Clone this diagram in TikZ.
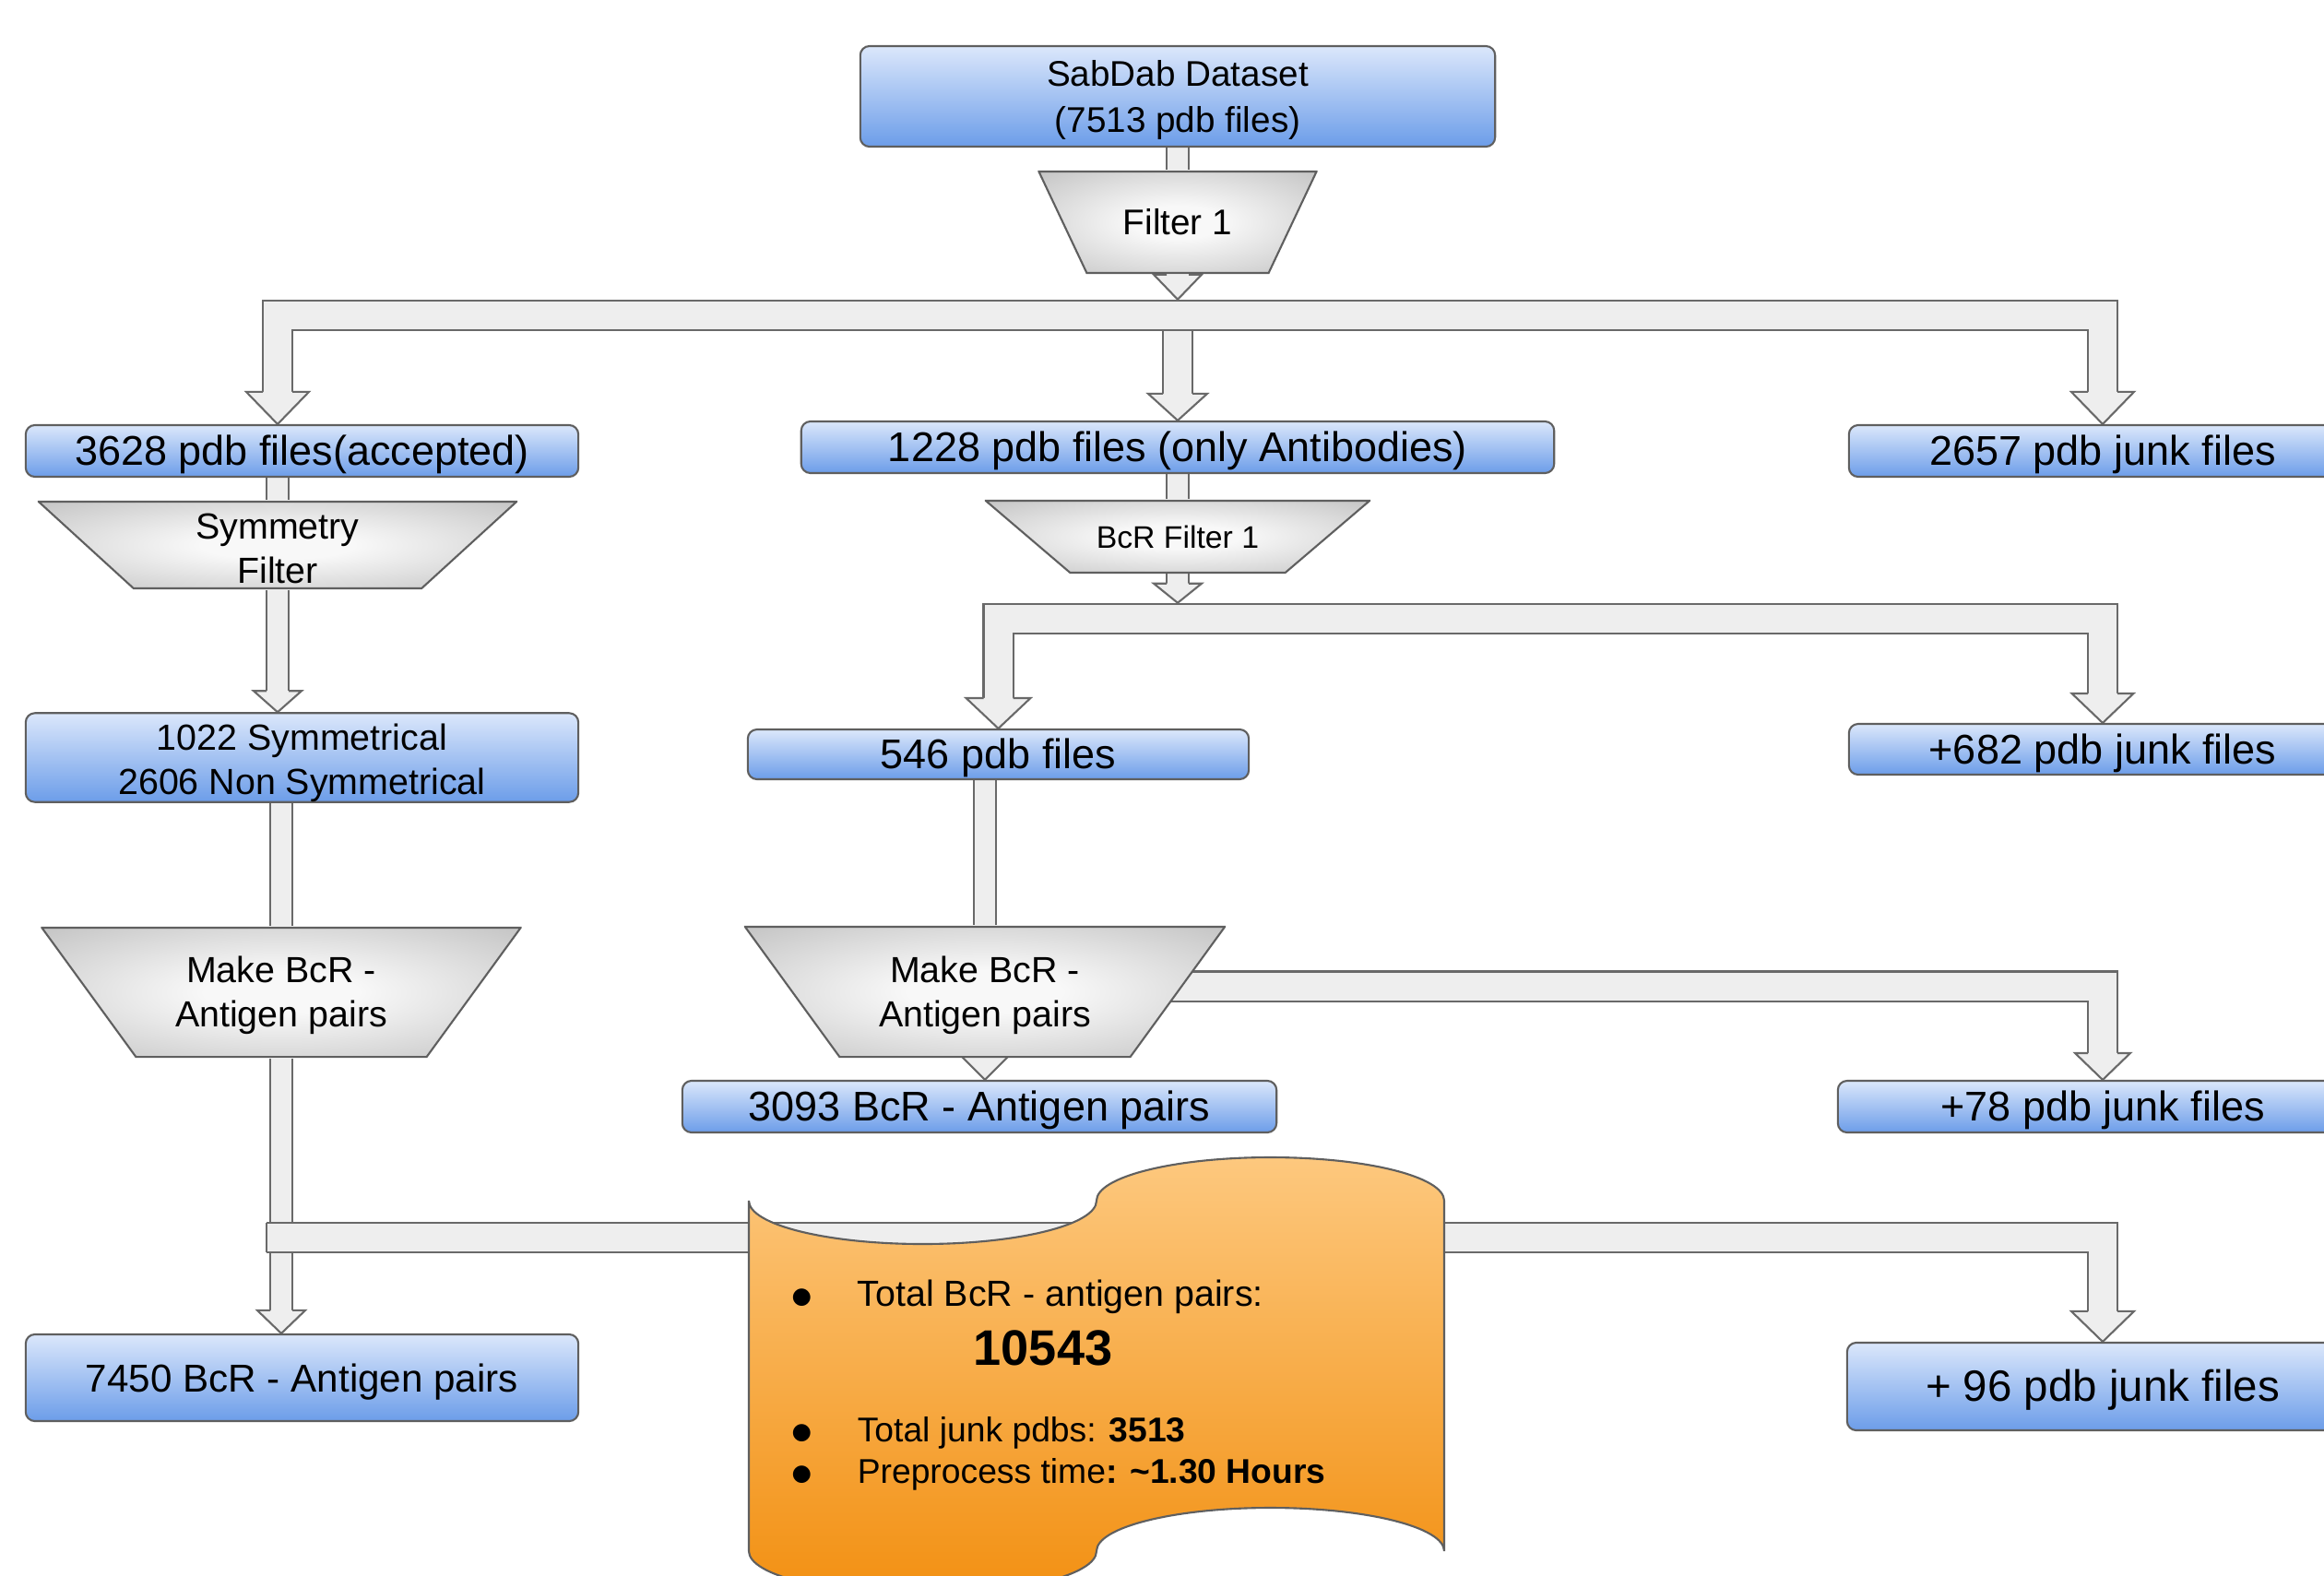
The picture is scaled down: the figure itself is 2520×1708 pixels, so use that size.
\documentclass[tikz,border=0pt]{standalone}
\usepackage{fontspec}
\setmainfont{Liberation Sans}
\newfontfamily\djv{DejaVu Sans}
\usetikzlibrary{calc,backgrounds}
\definecolor{bluetop}{RGB}{219,231,251}
\definecolor{bluebot}{RGB}{108,157,233}
\definecolor{edgegray}{RGB}{95,95,95}
\definecolor{bandfill}{RGB}{238,238,238}
\definecolor{bandline}{RGB}{105,105,105}
\definecolor{trapin}{RGB}{248,248,248}
\definecolor{trapout}{RGB}{168,168,168}
\definecolor{orangetop}{RGB}{253,200,126}
\definecolor{orangebot}{RGB}{242,144,18}
\pgfdeclareradialshading{trapshade}{\pgfpoint{0bp}{0bp}}{color(0bp)=(trapin); color(8bp)=(trapin); color(50bp)=(trapout)}
\newcommand\dotitem{\makebox[0.71cm][l]{\raisebox{0.8pt}{\djv\fontsize{7}{8}\selectfont ●}}}
\begin{document}
\begin{tikzpicture}[x=0.01cm,y=-0.01cm,%坐标按像素计, y 轴向下
  box/.style={draw=edgegray,line width=0.6pt,rounded corners=1mm,top color=bluetop,bottom color=bluebot,
    inner sep=0pt,align=center,font=\fontsize{12.8}{15}\selectfont},
  oneline/.style={text height=11pt,text depth=2pt},
  trap/.style={inner sep=0pt,align=center,font=\fontsize{11.2}{13.7}\selectfont,
    path picture={\shadedraw[shading=trapshade,draw=edgegray,line width=0.6pt]
      ($(path picture bounding box.north west)+(1,1)$) -- ($(path picture bounding box.north east)+(-1,1)$)
      -- ($(path picture bounding box.south east)+(-#1-1,-1)$) -- ($(path picture bounding box.south west)+(#1+1,-1)$) -- cycle;}},
  thinband/.style={draw=bandline,line width=0.6pt,double=bandfill,double distance=0.22cm},
  thickband/.style={draw=bandline,line width=0.6pt,double=bandfill,double distance=0.30cm},
  headfill/.style={fill=bandfill,draw=bandline,line width=0.6pt},
  pics/downhead/.style n args={3}{code={\filldraw[headfill] (-#1/2,-#3) -- (-#2/2,-#3) -- (0,0) -- (#2/2,-#3) -- (#1/2,-#3);}}]
\useasboundingbox (0,0) rectangle (2520,1708);
\clip (0,0) rectangle (2520,1708);

\node[box,minimum width=6.88cm,minimum height=1.09cm,font=\fontsize{11}{14.2}\selectfont] (sab) at (1277,104.5) {\rule{0pt}{10.2pt}SabDab Dataset\\(7513 pdb files)};
\node[trap=52,minimum width=3.03cm,minimum height=1.12cm,font=\fontsize{11}{13.7}\selectfont] (f1) at (1277,241) {Filter 1};
\node[box,oneline,minimum width=5.99cm,minimum height=0.56cm] (acc) at (327.5,489) {3628 pdb files(accepted)};
\node[box,oneline,minimum width=8.16cm,minimum height=0.56cm] (anti) at (1277,485) {1228 pdb files (only Antibodies)};
\node[box,oneline,minimum width=5.50cm,minimum height=0.56cm] (junk1) at (2280,489) {2657 pdb junk files};
\node[trap=103,minimum width=5.20cm,minimum height=0.96cm] (symf) at (301,591) {\rule{0pt}{10pt}Symmetry\\Filter};
\node[box,minimum width=5.99cm,minimum height=0.93cm,font=\fontsize{11.2}{13.7}\selectfont] (sym) at (327.5,821.5) {\rule{0pt}{11.4pt}1022 Symmetrical\\2606 Non Symmetrical};
\node[trap=91.5,minimum width=4.18cm,minimum height=0.80cm,font=\fontsize{9.6}{12}\selectfont] (bcrf) at (1277,582) {BcR Filter 1};
\node[box,oneline,minimum width=5.43cm,minimum height=0.54cm] (s546) at (1082.5,818) {546 pdb files};
\node[box,oneline,minimum width=5.50cm,minimum height=0.55cm] (junk2) at (2280,812.5) {+682 pdb junk files};
\node[trap=102,minimum width=5.21cm,minimum height=1.42cm] (make1) at (305,1076) {\rule{0pt}{10.2pt}Make BcR -\\Antigen pairs};
\node[trap=102.5,minimum width=5.22cm,minimum height=1.43cm] (make2) at (1068,1075.5) {\rule{0pt}{10.2pt}Make BcR -\\Antigen pairs};
\node[box,oneline,minimum width=6.44cm,minimum height=0.56cm] (p3093) at (1062,1200) {3093 BcR - Antigen pairs};
\node[box,oneline,minimum width=5.74cm,minimum height=0.56cm] (junk3) at (2280,1200) {+78 pdb junk files};
\node[box,oneline,minimum width=5.99cm,minimum height=0.94cm,font=\fontsize{12}{14}\selectfont] (p7450) at (327.5,1494) {7450 BcR - Antigen pairs};
\node[box,oneline,minimum width=5.54cm,minimum height=0.95cm,font=\fontsize{13.5}{16}\selectfont] (junk4) at (2280,1503.5) {+ 96 pdb junk files};

\begin{scope}[on background layer]%箭头放在底层
\draw[thinband] (sab.south) -- (f1.north);
\coordinate (bar1) at ($(f1.south)+(0,44.5)$);
\draw[thickband] (bar1) -- ($(anti.north)+(0,-29)$);
\draw[thickband] (bar1) -| ($(acc.north -| symf.north)+(0,-35)$);
\draw[thickband] (bar1) -| ($(junk1.north)+(0,-35)$);
\pic at ($(f1.south)+(0,27)$) {downhead={24}{52}{27}};
\pic at (acc.north -| symf.north) {downhead={32}{68}{35}};
\pic at (anti.north) {downhead={32}{64}{29}};
\pic at (junk1.north) {downhead={32}{68}{35}};

\draw[thinband] (acc.south -| symf.north) -- (symf.north);
\draw[thinband] (symf.south) -- ($(sym.north -| symf.south)+(0,-23)$);
\pic at (sym.north -| symf.south) {downhead={24}{52}{23}};
\draw[thinband] (sym.south -| make1.north) -- (make1.north);
\draw[thinband] (make1.south) -- ($(p7450.north -| make1.south)+(0,-25)$);
\pic at (p7450.north -| make1.south) {downhead={24}{52}{25}};
\coordinate (bar3) at ($(make1.south)+(0,194)$);
\draw[thickband] ($(bar3)+(-16,0)$) -| ($(junk4.north)+(0,-33)$);
\draw[draw=bandline,line width=0.6pt] ($(bar3)+(-16,-16)$) -- ++(0,32);
\pic at (junk4.north) {downhead={32}{68}{33}};

\draw[thinband] (anti.south) -- (bcrf.north);
\draw[thinband] (bcrf.center) -- ($(bcrf.south)+(0,10)$);
\pic at ($(bcrf.south)+(0,31)$) {downhead={24}{52}{21}};
\coordinate (bar2) at ($(bcrf.south)+(0,48)$);
\draw[thickband] (bar2) -| ($(s546.north)+(0,-33)$);
\draw[thickband] (bar2) -| ($(junk2.north)+(0,-32)$);
\pic at (s546.north) {downhead={32}{70}{33}};
\pic at (junk2.north) {downhead={32}{67}{32}};

\draw[thinband] (s546.south -| make2.north) -- (make2.north);
\pic at (p3093.north -| make2.south) {downhead={24}{52}{26}};
\draw[thickband] ($(make2.center)+(0,-6)$) -| ($(junk3.north)+(0,-29)$);
\pic at (junk3.north) {downhead={32}{60}{29}};
\end{scope}

\draw[draw=edgegray,line width=0.6pt,top color=orangetop,bottom color=orangebot]
  (812,1302) arc[start angle=180,end angle=0,x radius=188.5,y radius=47]
  arc[start angle=180,end angle=360,x radius=188.5,y radius=47] -- (1566,1682)
  arc[start angle=0,end angle=-180,x radius=188.5,y radius=47]
  arc[start angle=0,end angle=180,x radius=188.5,y radius=47] -- cycle;
\node[anchor=base west,inner sep=0pt,font=\fontsize{11.2}{13}\selectfont] (tot) at (858,1416) {\dotitem Total BcR - antigen pairs:};
\node[anchor=base west,inner sep=0pt,font=\bfseries\fontsize{15.4}{18}\selectfont] (num) at (1055,1480) {10543};
\node[anchor=base west,inner sep=0pt,font=\fontsize{10.6}{13}\selectfont] (junkt) at (858,1563) {\dotitem Total junk pdbs: \textbf{3513}};
\node[anchor=base west,inner sep=0pt,font=\fontsize{10.6}{13}\selectfont] (ptime) at (858,1608) {\dotitem Preprocess time\textbf{: \textasciitilde1.30 Hours}};
\end{tikzpicture}
\end{document}
